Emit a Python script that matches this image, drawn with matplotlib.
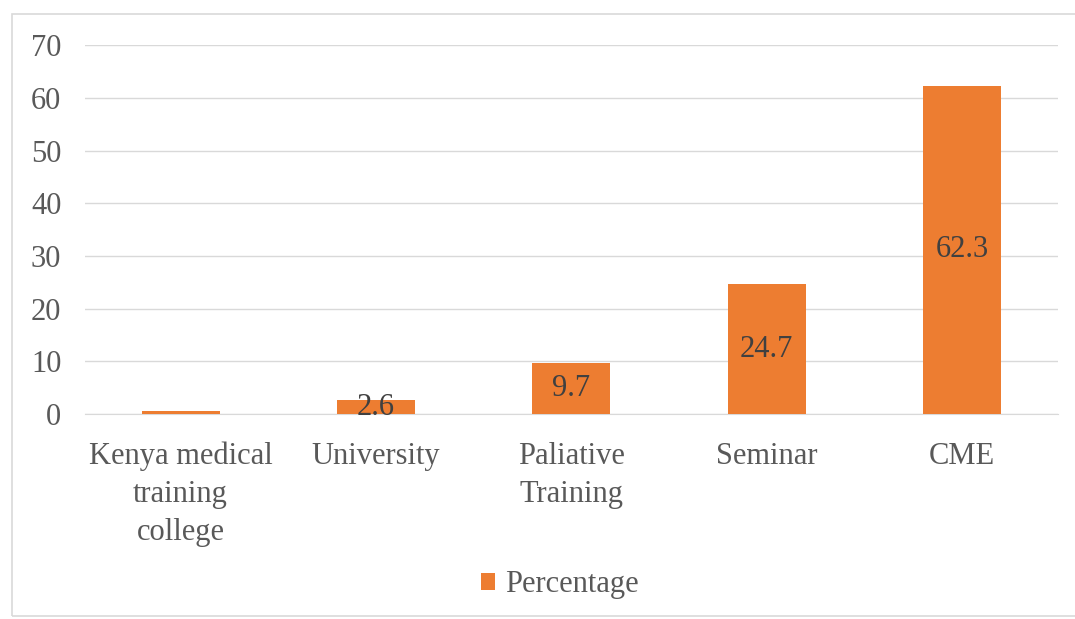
import matplotlib.pyplot as plt
from matplotlib.patches import Rectangle

# Data
categories = ["Kenya medical\ntraining\ncollege", "University", "Paliative\nTraining", "Seminar", "CME"]
values = [0.6, 2.6, 9.7, 24.7, 62.3]
labels = ["", "2.6", "9.7", "24.7", "62.3"]
yticks = [0, 10, 20, 30, 40, 50, 60, 70]

plt.rcParams['font.family'] = ['Liberation Serif', 'DejaVu Serif']

fig = plt.figure(figsize=(10.75, 6.19), dpi=100)
ax = fig.add_axes([0.079, 0.331, 0.905, 0.596])

# chart border
fig.patches.append(Rectangle((12 / 1075, 3 / 619), 1.0, 1 - 17 / 619,
                             transform=fig.transFigure, fill=False,
                             edgecolor='#D9D9D9', linewidth=1.2))

x = list(range(len(categories)))
bars = ax.bar(x, values, width=0.4, color='#ED7D31', label='Percentage', zorder=3)

for b, lab in zip(bars, labels):
    if lab:
        ax.text(b.get_x() + b.get_width() / 2, b.get_height() / 2, lab,
                ha='center', va='center', fontsize=22, color='#404040', zorder=4)

ax.set_xlim(-0.49, 4.49)
ax.set_ylim(0, 70)
ax.set_yticks(yticks)
ax.yaxis.grid(True, color='#D9D9D9', linewidth=1, zorder=0)
ax.set_xticks(x)
ax.set_xticklabels(categories, fontsize=22, color='#595959', linespacing=1.4)
ax.tick_params(axis='y', labelsize=22, labelcolor='#595959', length=0, pad=17)
ax.tick_params(axis='x', length=0, pad=20)
for s in ['top', 'right', 'left']:
    ax.spines[s].set_visible(False)
ax.spines['bottom'].set_color('#D9D9D9')

fig.legend(loc='center', bbox_to_anchor=(0.521, 0.055), frameon=False,
           fontsize=22, labelcolor='#595959', handlelength=0.45, handleheight=0.45,
           handletextpad=0.35)

fig.savefig('out.png', dpi=100, facecolor='white')
